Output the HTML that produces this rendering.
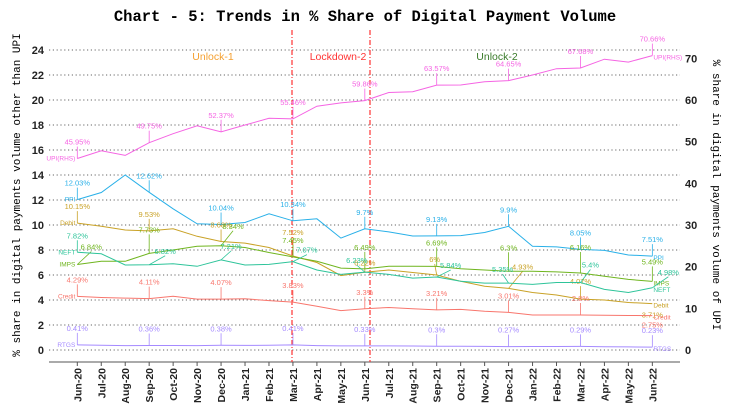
<!DOCTYPE html>
<html><head><meta charset="utf-8"><style>
html,body{margin:0;padding:0;background:#fff;width:731px;height:415px;overflow:hidden}
svg text{font-family:"Liberation Sans",sans-serif}
</style></head><body>
<svg id="c" width="731" height="415" xmlns="http://www.w3.org/2000/svg"></svg>
<script>
const s=document.getElementById('c');let h='';
const X=i=>77.3+i*23.96, YL=v=>350-v*12.5, YR=v=>350-v*4.1667;
h+='<text x="365" y="21" text-anchor="middle" style="font-family:\'Liberation Mono\',monospace;font-weight:bold;font-size:15.5px">Chart - 5: Trends in % Share of Digital Payment Volume</text>';
for(let v=0;v<=24;v+=2){const y=YL(v);h+=`<line x1="49" x2="680" y1="${y}" y2="${y}" stroke="#333" stroke-width="0.8" stroke-dasharray="1.2,2.6"/>`;
h+=`<text x="44" y="${y+4}" text-anchor="end" font-size="11" font-weight="bold" fill="#222">${v}</text>`;}
for(let v=0;v<=70;v+=10){const y=YR(v);h+=`<text x="685" y="${y+4}" font-size="11" font-weight="bold" fill="#222">${v}</text>`;}
h+='<line x1="49" x2="680" y1="362" y2="362" stroke="#555" stroke-width="1"/>';
const m=['Jun-20','Jul-20','Aug-20','Sep-20','Oct-20','Nov-20','Dec-20','Jan-21','Feb-21','Mar-21','Apr-21','May-21','Jun-21','Jul-21','Aug-21','Sep-21','Oct-21','Nov-21','Dec-21','Jan-22','Feb-22','Mar-22','Apr-22','May-22','Jun-22'];
m.forEach((t,i)=>{const x=X(i);h+=`<line x1="${x}" x2="${x}" y1="362" y2="366" stroke="#555"/>`;
h+=`<text transform="translate(${x+4},368) rotate(-90)" text-anchor="end" font-size="10.5" font-weight="bold" fill="#222">${t}</text>`;});
h+='<line x1="292" x2="292" y1="30" y2="362" stroke="#f33" stroke-width="1.2" stroke-dasharray="5,2,1,2"/>';
h+='<line x1="370" x2="370" y1="30" y2="362" stroke="#f33" stroke-width="1.2" stroke-dasharray="5,2,1,2"/>';
h+='<text x="213" y="60" text-anchor="middle" font-size="10.5" fill="#f5a030">Unlock-1</text>';
h+='<text x="338" y="60" text-anchor="middle" font-size="10.5" fill="#f33">Lockdown-2</text>';
h+='<text x="497" y="60" text-anchor="middle" font-size="10.5" fill="#3a7a2a">Unlock-2</text>';
h+='<text transform="translate(20,195) rotate(-90)" text-anchor="middle" style="font-family:\'Liberation Mono\',monospace;font-size:11px">% share in digital payments volume other than UPI</text>';
h+='<text transform="translate(713,195) rotate(90)" text-anchor="middle" style="font-family:\'Liberation Mono\',monospace;font-size:11px">% share in digital payments volume of UPI</text>';
const S=[
['UPI(RHS)','#f564e3',1,[45.95,47.8,46.7,49.75,51.9,53.8,52.37,54,55.6,55.46,58.5,59.3,59.86,61.8,62,63.57,63.6,64.4,64.65,66,67.5,67.68,69.8,69.1,70.66]],
['PPI','#29b0e8',0,[12.03,12.6,14,12.62,11.3,10.1,10.04,10.2,10.9,10.34,10.5,8.95,9.7,9.45,9.12,9.13,9.15,9.4,9.9,8.3,8.25,8.05,7.97,7.6,7.51]],
['Debit','#c9a227',0,[10.15,9.9,9.6,9.53,9.7,9.1,8.68,8.55,8.2,7.52,7.0,5.95,6.22,6.4,6.2,6.0,5.5,5.1,4.93,4.6,4.4,4.07,4.0,3.8,3.71]],
['IMPS','#6fb51e',0,[6.84,7.1,7.1,7.73,8.0,8.3,8.34,8.2,7.8,7.45,7.1,6.55,6.49,6.7,6.7,6.69,6.5,6.4,6.3,6.3,6.25,6.16,5.9,5.65,5.49]],
['NEFT','#2ec49a',0,[7.82,7.7,6.8,6.82,6.9,6.7,7.21,6.8,6.85,7.07,6.4,6.05,6.23,6.05,5.75,5.84,5.5,5.35,5.35,5.25,5.4,5.4,4.85,4.6,4.98]],
['Credit','#f8766d',0,[4.29,4.2,4.15,4.11,4.3,4.07,4.07,4.1,3.95,3.83,3.5,3.15,3.3,3.4,3.3,3.21,3.25,3.1,3.01,2.8,2.8,2.8,2.78,2.76,2.75]],
['RTGS','#a58aff',0,[0.41,0.38,0.35,0.36,0.36,0.35,0.38,0.37,0.38,0.41,0.35,0.33,0.33,0.33,0.32,0.3,0.3,0.29,0.27,0.28,0.28,0.29,0.26,0.25,0.23]]];
const off={'IMPS0':[14,-14],'NEFT3':[16,-10],'IMPS3':[0,-20],'NEFT6':[10,-10],'IMPS6':[12,-16],'NEFT9':[14,-8],'Debit9':[0,-20],'IMPS12':[0,-18],'NEFT12':[-8,-8],'Debit12':[0,-6],'NEFT15':[14,-8],'IMPS15':[0,-20],'Debit15':[-2,-12],'NEFT18':[-6,-10],'Debit18':[14,-18],'IMPS18':[0,-20],'IMPS21':[0,-22],'NEFT21':[10,-14],'Debit21':[0,-14],'IMPS24':[0,-16],'NEFT24':[16,-12],'Debit24':[0,10],'Credit24':[0,8]};
S.forEach(([n,c,r,d])=>{const Y=r?YR:YL;
h+=`<polyline fill="none" stroke="${c}" stroke-width="1" points="${d.map((v,i)=>X(i).toFixed(1)+','+Y(v).toFixed(1)).join(' ')}"/>`;
h+=`<text x="${X(0)-2}" y="${Y(d[0])+2}" text-anchor="end" font-size="6.5" fill="${c}">${n}</text>`;
h+=`<text x="${X(24)+1}" y="${Y(d[24])+4}" font-size="6.5" fill="${c}">${n}</text>`;
for(let i=0;i<=24;i+=3){const x=X(i),y=Y(d[i]);const o=off[n+i]||[0,-13];
const lx=x+o[0],ly=y+o[1];
if(o[1]<0)h+=`<line x1="${x}" y1="${y}" x2="${lx}" y2="${ly+1}" stroke="${c}" stroke-width="0.8"/>`;
const lab=(Math.round(d[i]*100)/100)+'%';
h+=`<text x="${lx}" y="${o[1]<0?ly-1:ly+4}" text-anchor="middle" font-size="7.5" fill="${c}">${lab}</text>`;}
});
s.innerHTML=h;
</script>
</body></html>
